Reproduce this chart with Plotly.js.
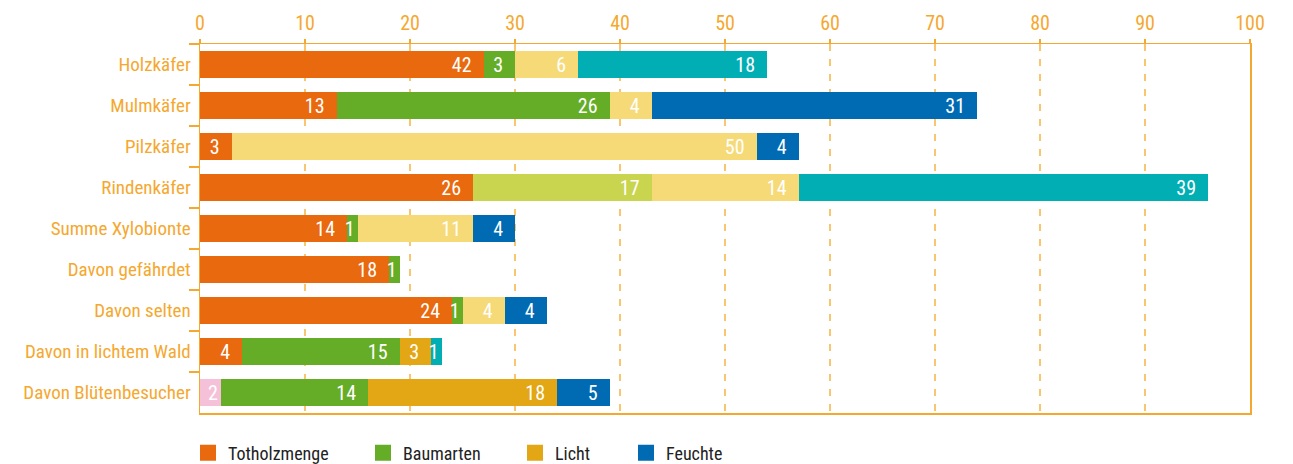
<!DOCTYPE html>
<html>
<head>
<meta charset="utf-8">
<script src="https://cdn.plot.ly/plotly-3.0.1.min.js"></script>
<style>html,body{margin:0;padding:0;background:#fff;}#chart{width:1293px;height:464px;}</style>
</head>
<body>
<div id="chart"></div>
<script>
// ---- data ----
const categories = ["Holzkäfer", "Mulmkäfer", "Pilzkäfer", "Rindenkäfer", "Summe Xylobionte",
                    "Davon gefährdet", "Davon selten", "Davon in lichtem Wald", "Davon Blütenbesucher"];
const totholzmenge = [27, 13, 3, 26, 14, 18, 24, 4, 2];
const totholzLabels = [42, 13, 3, 26, 14, 18, 24, 4, 2];
const baumarten = [3, 26, 0, 17, 1, 1, 1, 15, 14];
const licht = [6, 4, 50, 14, 11, 0, 4, 3, 18];
const feuchte = [18, 31, 4, 39, 4, 0, 4, 1, 5];
const seriesNames = ["Totholzmenge", "Baumarten", "Licht", "Feuchte"];
const xTicks = [0, 10, 20, 30, 40, 50, 60, 70, 80, 90, 100];

// ---- styles ----
const C = {
  orange: "#e9690e", green: "#65ad27", gold: "#e3a614", blue: "#006bb3",
  lightYellow: "#f6da78", teal: "#00aeb4", yellowGreen: "#c9d44f", pink: "#f5c1d9",
  axis: "#f5a82f", grid: "#f8c570", text: "#222222"
};
const totholzColors = categories.map((c, i) => i === 8 ? C.pink : C.orange);
const baumartenColors = categories.map((c, i) => i === 3 ? C.yellowGreen : C.green);
const lichtColors = categories.map((c, i) => (i === 7 || i === 8) ? C.gold : C.lightYellow);
const feuchteColors = categories.map((c, i) => [0, 3, 7].includes(i) ? C.teal : C.blue);
const legendColors = [C.orange, C.green, C.gold, C.blue];

const FONT = "'Liberation Sans Narrow', 'Arial Narrow', 'Roboto Condensed', 'DejaVu Sans Condensed', 'Liberation Sans', sans-serif";
// labels: blank for empty segments, small right padding (en space) where the segment is wide enough
const lbl = (labels, vals) => labels.map((v, i) => !vals[i] ? "" : (vals[i] >= 3 ? v + "\u2002" : String(v)));

function barTrace(name, vals, labels, colors) {
  return {
    type: "bar", orientation: "h", name: name,
    x: vals, y: categories,
    text: lbl(labels, vals), textposition: "inside", insidetextanchor: "end",
    textangle: 0, constraintext: "none", cliponaxis: false,
    textfont: {family: FONT, size: 20, color: "#ffffff"},
    marker: {color: colors, line: {width: 0}},
    showlegend: false, hoverinfo: "skip"
  };
}

const data = [
  barTrace(seriesNames[0], totholzmenge, totholzLabels, totholzColors),
  barTrace(seriesNames[1], baumarten, baumarten, baumartenColors),
  barTrace(seriesNames[2], licht, licht, lichtColors),
  barTrace(seriesNames[3], feuchte, feuchte, feuchteColors)
];
// legend entries
const legendX = [188, 363, 515, 626];
seriesNames.forEach((n, i) => {
  data.push({
    type: "scatter", mode: "markers", name: n, x: [null], y: [null],
    marker: {symbol: "square", size: 18, color: legendColors[i]},
    legend: i === 0 ? "legend" : "legend" + (i + 1),
    showlegend: true, hoverinfo: "skip"
  });
});

const layout = {
  width: 1293, height: 464,
  margin: {l: 200, r: 43, t: 44, b: 51},
  paper_bgcolor: "#ffffff", plot_bgcolor: "#ffffff",
  font: {family: FONT, color: C.text},
  barmode: "stack", bargap: 0.32,
  xaxis: {
    side: "top", range: [0, 100], tickvals: xTicks, ticktext: xTicks.map(String),
    showgrid: true, gridcolor: C.grid, griddash: "7px,8px", gridwidth: 1.5,
    showline: true, linecolor: C.axis, linewidth: 1.5, mirror: true,
    ticks: "outside", ticklen: 4, tickcolor: C.axis, tickwidth: 1.5,
    ticklabelstandoff: 1,
    tickfont: {family: FONT, size: 20, color: C.axis},
    zeroline: false, fixedrange: true, automargin: false
  },
  yaxis: {
    type: "category", categoryorder: "array", categoryarray: categories,
    autorange: "reversed",
    showline: true, linecolor: C.axis, linewidth: 1.5, mirror: true,
    ticks: "outside", ticklen: 10, tickson: "boundaries", tickcolor: C.axis, tickwidth: 1.5,
    ticklabelstandoff: 4,
    tickfont: {family: FONT, size: 19, color: C.axis},
    showgrid: false, zeroline: false, fixedrange: true, automargin: false
  },
  showlegend: true
};
seriesNames.forEach((n, i) => {
  const key = i === 0 ? "legend" : "legend" + (i + 1);
  layout[key] = {
    orientation: "h", xref: "container", yref: "container",
    x: legendX[i] / 1293, xanchor: "left",
    y: (464 - 453) / 464, yanchor: "middle", bgcolor: "rgba(0,0,0,0)", borderwidth: 0,
    font: {family: FONT, size: 18, color: C.text}
  };
});

Plotly.newPlot("chart", data, layout, {displayModeBar: false, staticPlot: true});
</script>
</body>
</html>
